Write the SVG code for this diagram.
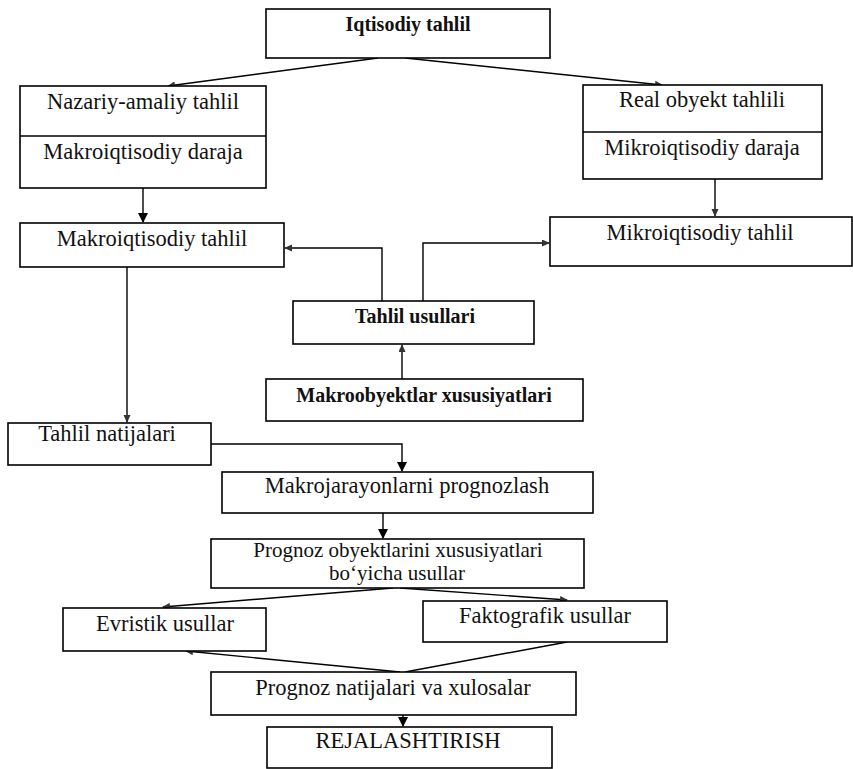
<svg xmlns="http://www.w3.org/2000/svg" width="853" height="769" viewBox="0 0 853 769">
<defs>
<marker id="big" markerUnits="userSpaceOnUse" markerWidth="10" markerHeight="12" refX="9" refY="5" orient="auto">
<path d="M0,0 L10,5 L0,10 Z" fill="#000"/>
</marker>
<marker id="small" markerUnits="userSpaceOnUse" markerWidth="8" markerHeight="8" refX="7" refY="3.5" orient="auto">
<path d="M0,0 L8,3.5 L0,7 Z" fill="#333"/>
</marker>
</defs>
<style>
.box{fill:#fff;stroke:#000;stroke-width:1.6}
.div{stroke:#000;stroke-width:1.4}
text{font-family:"Liberation Serif","Times New Roman",serif;font-size:22.5px;fill:#111;text-anchor:middle}
.b{font-weight:bold;font-size:20px}
.t{font-size:21px}
.c{fill:none;stroke:#000;stroke-width:1.4}
</style>
<g id="connectors">
<path class="c" d="M378,58 L168,86" marker-end="url(#small)"/>
<path class="c" d="M405,58 L662,85" marker-end="url(#small)"/>
<path class="c" d="M143,188 L143,222" marker-end="url(#big)"/>
<path class="c" d="M715,179 L715,216" marker-end="url(#small)"/>
<path class="c" d="M382,301 L382,248 L285,248" marker-end="url(#small)"/>
<path class="c" d="M423,301 L423,243 L549,243" marker-end="url(#small)"/>
<path class="c" d="M402,379 L402,345" marker-end="url(#small)"/>
<path class="c" d="M127,267 L127,422" marker-end="url(#small)"/>
<path class="c" d="M211,444 L402,444 L402,471" marker-end="url(#big)"/>
<path class="c" d="M383,513 L383,538" marker-end="url(#big)"/>
<path class="c" d="M393,588 L163,607" marker-end="url(#small)"/>
<path class="c" d="M400,588 L567,600" marker-end="url(#small)"/>
<path class="c" d="M400,672 L186,651" marker-end="url(#small)"/>
<path class="c" d="M405,672 L567,642"/>
<path class="c" d="M403,715 L403,726" marker-end="url(#big)"/>
</g>
<g id="iqtisodiy"><rect class="box" x="266" y="9" width="284" height="49"/><text class="b" x="408" y="31">Iqtisodiy tahlil</text></g>
<g id="nazariy"><rect class="box" x="20" y="86" width="246" height="102"/><line class="div" x1="20" y1="136" x2="266" y2="136"/><text x="143" y="109">Nazariy-amaliy tahlil</text><text x="143" y="159">Makroiqtisodiy daraja</text></g>
<g id="real"><rect class="box" x="583" y="85" width="239" height="94"/><line class="div" x1="583" y1="132" x2="822" y2="132"/><text x="702" y="107">Real obyekt tahlili</text><text x="702" y="155">Mikroiqtisodiy daraja</text></g>
<g id="makrotahlil"><rect class="box" x="20" y="223" width="264" height="44"/><text x="152" y="246">Makroiqtisodiy tahlil</text></g>
<g id="mikrotahlil"><rect class="box" x="550" y="217" width="302" height="49"/><text x="700" y="240">Mikroiqtisodiy tahlil</text></g>
<g id="usullari"><rect class="box" x="293" y="301" width="241" height="43"/><text class="b" x="415" y="323">Tahlil usullari</text></g>
<g id="makroobyekt"><rect class="box" x="266" y="379" width="317" height="42"/><text class="b" x="424" y="402">Makroobyektlar xususiyatlari</text></g>
<g id="natijalari"><rect class="box" x="8" y="423" width="203" height="42"/><text x="107" y="441">Tahlil natijalari</text></g>
<g id="makrojarayon"><rect class="box" x="222" y="472" width="371" height="41"/><text x="407" y="493">Makrojarayonlarni prognozlash</text></g>
<g id="prognozobyekt"><rect class="box" x="211" y="539" width="373" height="49"/><text class="t" x="398" y="557">Prognoz obyektlarini xususiyatlari</text><text class="t" x="397" y="580">bo‘yicha usullar</text></g>
<g id="evristik"><rect class="box" x="63" y="608" width="203" height="43"/><text x="165" y="631">Evristik usullar</text></g>
<g id="faktografik"><rect class="box" x="423" y="601" width="244" height="41"/><text x="545" y="623">Faktografik usullar</text></g>
<g id="prognoznatija"><rect class="box" x="211" y="672" width="365" height="43"/><text x="393" y="695">Prognoz natijalari va xulosalar</text></g>
<g id="rejalash"><rect class="box" x="267" y="727" width="285" height="41"/><text x="408" y="748">REJALASHTIRISH</text></g>
</svg>
